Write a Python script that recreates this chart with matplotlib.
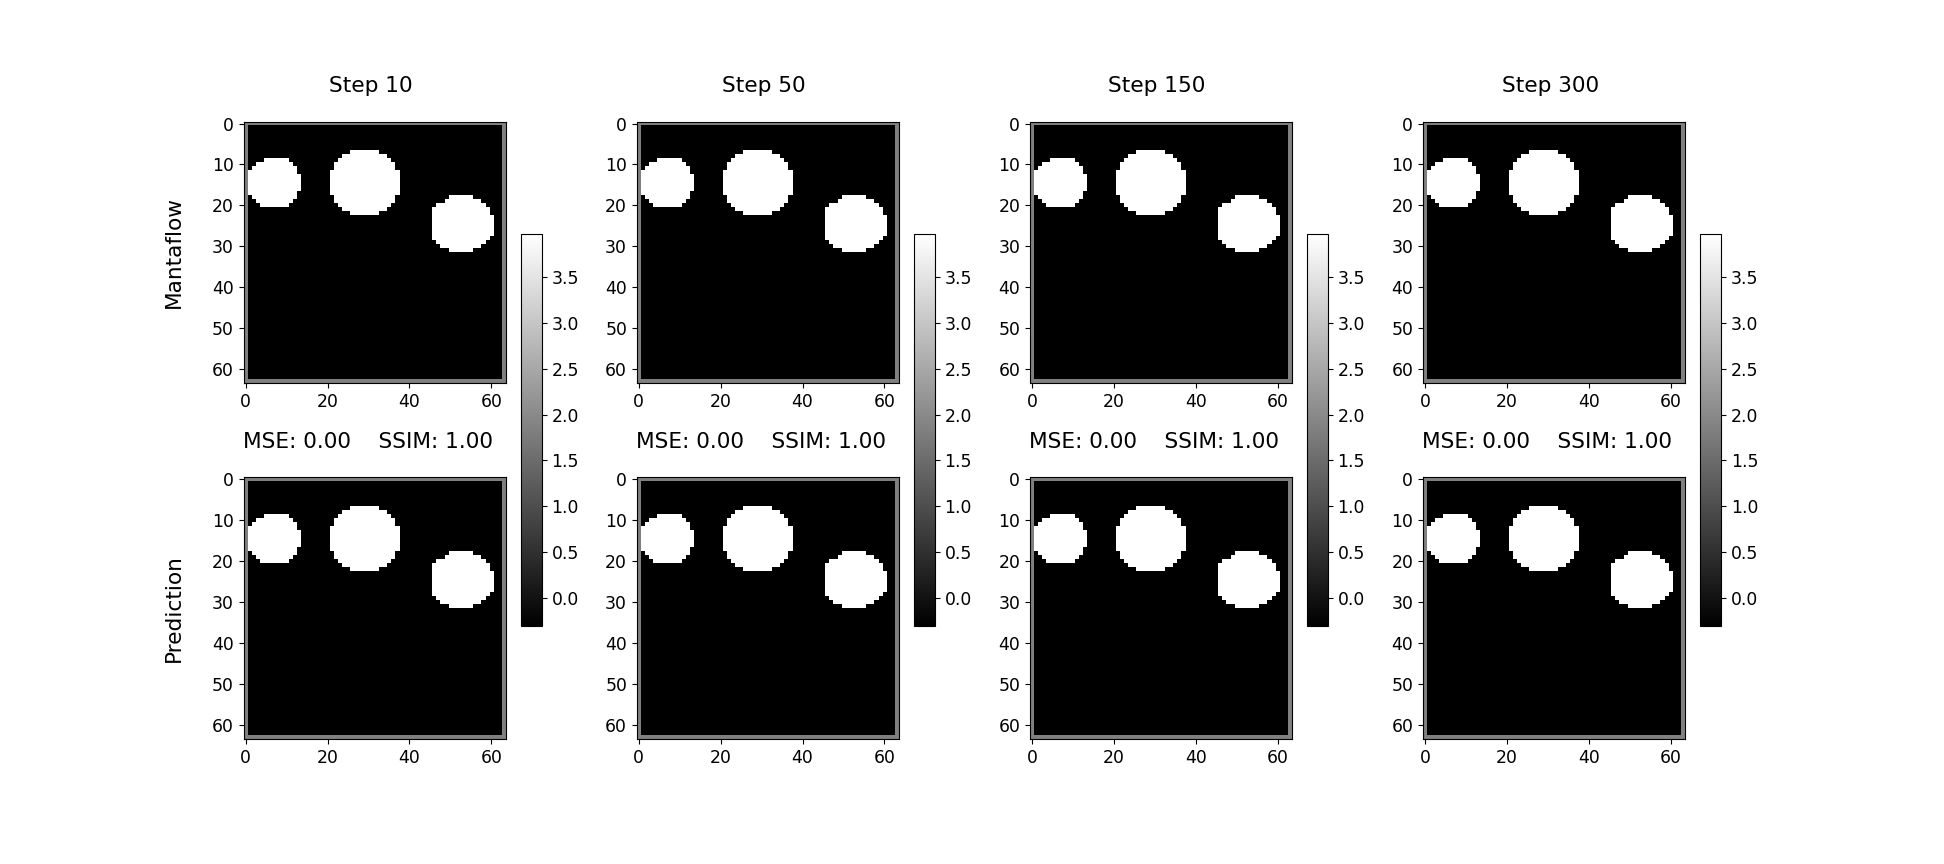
import numpy as np
import matplotlib
matplotlib.use("Agg")
import matplotlib.pyplot as plt

# ---------------- data ----------------
steps = [10, 50, 150, 300]
row_labels = ["Mantaflow", "Prediction"]
mse_values = [0.00, 0.00, 0.00, 0.00]
ssim_values = [1.00, 1.00, 1.00, 1.00]

grid_size = 64
fluid_value = -0.30      # black interior
border_value = 1.83      # grey one-cell frame
obstacle_value = 3.96    # white discs
vmin, vmax = -0.30, 3.96
cbar_ticks = [0.0, 0.5, 1.0, 1.5, 2.0, 2.5, 3.0, 3.5]

# obstacle discs as (row, first column, last column) runs
disc1_rows = [9, 10, 11, 12, 13, 14, 15, 16, 17, 18, 19, 20]
disc1_start = [5, 3, 2, 1, 1, 1, 1, 1, 1, 2, 3, 4]
disc1_end = [10, 11, 12, 12, 13, 13, 13, 13, 12, 12, 11, 10]

disc2_rows = [7, 8, 9, 10, 11, 12, 13, 14, 15, 16, 17, 18, 19, 20, 21, 22]
disc2_start = [26, 24, 23, 22, 22, 21, 21, 21, 21, 21, 21, 22, 22, 23, 24, 26]
disc2_end = [32, 34, 35, 36, 36, 37, 37, 37, 37, 37, 37, 36, 36, 35, 34, 32]

disc3_rows = [18, 19, 20, 21, 22, 23, 24, 25, 26, 27, 28, 29, 30, 31]
disc3_start = [50, 49, 47, 46, 46, 46, 46, 46, 46, 46, 46, 47, 48, 50]
disc3_end = [55, 57, 58, 59, 59, 60, 60, 60, 60, 60, 59, 58, 57, 55]

# ---------------- build field ----------------
field = np.full((grid_size, grid_size), fluid_value, dtype=float)
field[0, :] = border_value
field[-1, :] = border_value
field[:, 0] = border_value
field[:, -1] = border_value
for rows, starts, ends in [(disc1_rows, disc1_start, disc1_end),
                           (disc2_rows, disc2_start, disc2_end),
                           (disc3_rows, disc3_start, disc3_end)]:
    for r, a, b in zip(rows, starts, ends):
        field[r, a:b + 1] = obstacle_value

fields = {(row, col): field for row in range(2) for col in range(4)}

# ---------------- layout ----------------
W, H = 1944, 864
fig = plt.figure(figsize=(W / 100, H / 100), dpi=100)

def frac(x0, y0, w, h):
    return [x0 / W, 1 - (y0 + h) / H, w / W, h / H]

ax_w, ax_h = 262.7, 262.0
col_x0 = 243.3
col_dx = 393.1
row_y0 = [121.5, 477.3]

title_fs = 15.6
tick_fs = 12.4

for c in range(4):
    ims = []
    for r in range(2):
        ax = fig.add_axes(frac(col_x0 + c * col_dx, row_y0[r], ax_w, ax_h))
        im = ax.imshow(fields[(r, c)], cmap="gray", vmin=vmin, vmax=vmax,
                       interpolation="nearest")
        ims.append(im)
        ax.set_xticks([0, 20, 40, 60])
        ax.set_yticks([0, 10, 20, 30, 40, 50, 60])
        ax.tick_params(labelsize=tick_fs)
        if r == 0:
            ax.set_title(f"Step {steps[c]}", fontsize=title_fs, pad=21, x=0.486)
        else:
            ax.set_title(f"MSE: {mse_values[c]:.2f}    SSIM: {ssim_values[c]:.2f}",
                         fontsize=title_fs, pad=21, x=0.474)
        if c == 0:
            ax.set_ylabel(row_labels[r], fontsize=title_fs)
            ax.yaxis.set_label_coords(-0.228, 0.5)
    cax = fig.add_axes(frac(521 + c * col_dx, 234.3, 20.7, 391.7))
    cb = fig.colorbar(ims[0], cax=cax)
    cb.set_ticks(cbar_ticks)
    cb.ax.tick_params(labelsize=tick_fs)

fig.savefig("out.png", dpi=100)
